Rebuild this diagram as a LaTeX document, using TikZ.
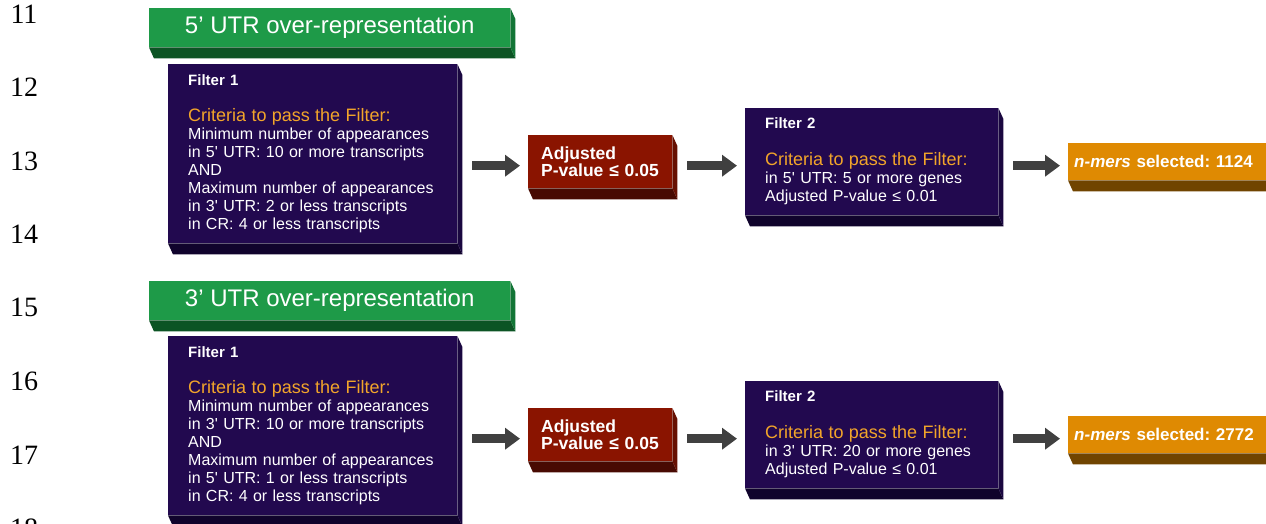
\documentclass[tikz,border=0pt]{standalone}
\usepackage{fontspec}
\setmainfont{Liberation Sans}
\newfontfamily\numfont{Liberation Serif}
\usepackage{xcolor}
\definecolor{hdrgreen}{HTML}{1E9A48}
\definecolor{hdrgreendark}{HTML}{0C5424}
\definecolor{hdrgreenside}{HTML}{127536}
\definecolor{fltpurple}{HTML}{22094F}
\definecolor{fltpurpledark}{HTML}{10032C}
\definecolor{fltpurpleside}{HTML}{1A0740}
\definecolor{pvalred}{HTML}{8A1400}
\definecolor{pvalreddark}{HTML}{480A02}
\definecolor{pvalredside}{HTML}{661002}
\definecolor{resorange}{HTML}{DF8A02}
\definecolor{resorangedark}{HTML}{704400}
\definecolor{critorange}{HTML}{F2A52A}
\definecolor{flowgray}{HTML}{404040}
\usetikzlibrary{arrows.meta, positioning, calc}

% bottom and side faces of a slab-like box
\newcommand{\slabfaces}[3]{%
    \fill[#2] (#1.south west) -- ([xshift=5pt,yshift=-11pt]#1.south west)
        -- ([xshift=5pt,yshift=-11pt]#1.south east) -- (#1.south east) -- cycle;
    \fill[#3] (#1.north east) -- ([xshift=5pt,yshift=-11pt]#1.north east)
        -- ([xshift=5pt,yshift=-11pt]#1.south east) -- (#1.south east) -- cycle;
}

\frenchspacing

\begin{document}
\begin{tikzpicture}[
        x=1pt, y=-1pt,
        font=\fontsize{16}{18}\selectfont,
        header/.style={
            rectangle,
            fill=hdrgreen,
            text=white,
            anchor=north west,
            inner sep=0pt,
            minimum width=361pt,
            minimum height=39pt,
            font=\fontsize{24}{26}\selectfont
        },
        filterbox/.style={
            rectangle,
            fill=fltpurple,
            text=white,
            anchor=north west,
            align=left,
            inner xsep=20pt,
            inner ysep=0pt
        },
        pvalbox/.style={
            rectangle,
            fill=pvalred,
            text=white,
            anchor=north west,
            align=left,
            inner sep=0pt,
            text width=118pt,
            minimum width=144pt,
            minimum height=53pt,
            font=\bfseries\fontsize{17.5}{17}\selectfont
        },
        resultbox/.style={
            rectangle,
            fill=resorange,
            text=white,
            anchor=north west,
            align=left,
            inner xsep=6pt,
            inner ysep=0pt,
            text width=210pt,
            minimum height=37pt,
            font=\bfseries\fontsize{17}{20}\selectfont
        },
        linenum/.style={inner sep=0pt, font=\numfont\fontsize{28}{30}\selectfont},
        flow/.style={
            -{Triangle[length=15pt, width=21pt]},
            draw=flowgray,
            line width=9pt,
            shorten <=15pt,
            shorten >=8pt
        }
    ]

    \useasboundingbox (0,0) rectangle (1266,523);
    \clip (0,0) rectangle (1266,523);

    % Line numbers
    \node[linenum] (ln11) at (24,14) {11};
    \node[linenum] (ln12) at (24,87) {12};
    \node[linenum] (ln13) at (24,161) {13};
    \node[linenum] (ln14) at (24,234) {14};
    \node[linenum] (ln15) at (24,307) {15};
    \node[linenum] (ln16) at (24,381) {16};
    \node[linenum] (ln17) at (24,455) {17};
    \node[linenum] (ln18) at (24,528) {18};

    % 5' UTR row
    \node[header] (hdrA) at (149,8) {5’ UTR over-representation};
    \slabfaces{hdrA}{hdrgreendark}{hdrgreenside}

    \node[filterbox, text width=249pt, minimum height=179pt] (fltA1) at (168,64) {%
        {\bfseries\fontsize{15}{18}\selectfont Filter 1}\\[18pt]
        {\color{critorange}\fontsize{18}{18}\selectfont Criteria to pass the Filter:}\\
        Minimum number of appearances\\
        in 5\textquotesingle{} UTR: 10 or more transcripts\\
        AND\\
        Maximum number of appearances\\
        in 3\textquotesingle{} UTR: 2 or less transcripts\\
        in CR: 4 or less transcripts};
    \slabfaces{fltA1}{fltpurpledark}{fltpurpleside}

    \node[pvalbox] (pvalA) at (528,135) {Adjusted\\P-value ≤ 0.05};
    \slabfaces{pvalA}{pvalreddark}{pvalredside}

    \node[filterbox, text width=213pt, minimum height=107pt] (fltA2) at (745,108) {%
        {\bfseries\fontsize{15}{18}\selectfont Filter 2}\\[19pt]
        {\color{critorange}\fontsize{18}{18}\selectfont Criteria to pass the Filter:}\\
        in 5\textquotesingle{} UTR: 5 or more genes\\
        Adjusted P-value ≤ 0.01};
    \slabfaces{fltA2}{fltpurpledark}{fltpurpleside}

    \node[resultbox] (resA) at (1068,143) {{\itshape n-mers} selected: 1124};
    \slabfaces{resA}{resorangedark}{resorangedark}

    \draw[flow] ($(fltA1.east |- pvalA.west)+(0,4)$) -- ($(pvalA.west)+(0,4)$);
    \draw[flow] ($(pvalA.east)+(0,4)$) -- ($(fltA2.west)+(0,4)$);
    \draw[flow] ($(fltA2.east)+(0,4)$) -- ($(resA.west |- fltA2.east)+(0,4)$);

    % 3' UTR row
    \node[header] (hdrB) at (149,281) {3’ UTR over-representation};
    \slabfaces{hdrB}{hdrgreendark}{hdrgreenside}

    \node[filterbox, text width=249pt, minimum height=179pt] (fltB1) at (168,336) {%
        {\bfseries\fontsize{15}{18}\selectfont Filter 1}\\[18pt]
        {\color{critorange}\fontsize{18}{18}\selectfont Criteria to pass the Filter:}\\
        Minimum number of appearances\\
        in 3\textquotesingle{} UTR: 10 or more transcripts\\
        AND\\
        Maximum number of appearances\\
        in 5\textquotesingle{} UTR: 1 or less transcripts\\
        in CR: 4 or less transcripts};
    \slabfaces{fltB1}{fltpurpledark}{fltpurpleside}

    \node[pvalbox] (pvalB) at (528,408) {Adjusted\\P-value ≤ 0.05};
    \slabfaces{pvalB}{pvalreddark}{pvalredside}

    \node[filterbox, text width=213pt, minimum height=107pt] (fltB2) at (745,381) {%
        {\bfseries\fontsize{15}{18}\selectfont Filter 2}\\[19pt]
        {\color{critorange}\fontsize{18}{18}\selectfont Criteria to pass the Filter:}\\
        in 3\textquotesingle{} UTR: 20 or more genes\\
        Adjusted P-value ≤ 0.01};
    \slabfaces{fltB2}{fltpurpledark}{fltpurpleside}

    \node[resultbox] (resB) at (1068,416) {{\itshape n-mers} selected: 2772};
    \slabfaces{resB}{resorangedark}{resorangedark}

    \draw[flow] ($(fltB1.east |- pvalB.west)+(0,4)$) -- ($(pvalB.west)+(0,4)$);
    \draw[flow] ($(pvalB.east)+(0,4)$) -- ($(fltB2.west)+(0,4)$);
    \draw[flow] ($(fltB2.east)+(0,4)$) -- ($(resB.west |- fltB2.east)+(0,4)$);

\end{tikzpicture}
\end{document}
